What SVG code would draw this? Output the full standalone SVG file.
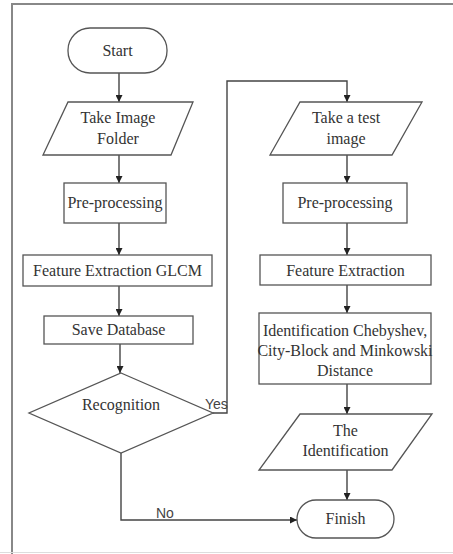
<svg xmlns="http://www.w3.org/2000/svg" width="453" height="554" viewBox="0 0 453 554">
<defs>
<style>
.s{fill:#fff;stroke:#555;stroke-width:1.3}
.t{font-family:"Liberation Serif","Times New Roman",serif;font-size:16px;fill:#333;text-anchor:middle}
.c{fill:none;stroke:#444;stroke-width:1.4}
.l{font-family:"Liberation Sans",Arial,sans-serif;font-size:14px;fill:#444}
</style>
<marker id="a" viewBox="0 0 10 10" refX="10" refY="5" markerWidth="7" markerHeight="7" orient="auto" markerUnits="userSpaceOnUse">
<path d="M0,0 L10,5 L0,10 z" fill="#222"/>
</marker>
</defs>
<rect width="453" height="554" fill="#fff"/>
<path d="M453,4 H12 V554" fill="none" stroke="#888" stroke-width="2"/>
<line x1="0" y1="552.5" x2="453" y2="552.5" stroke="#ddd" stroke-width="1"/>
<g id="connectors">
<path class="c" d="M119,73 V102" marker-end="url(#a)"/>
<path class="c" d="M119,155 V183" marker-end="url(#a)"/>
<path class="c" d="M119,223 V255" marker-end="url(#a)"/>
<path class="c" d="M119,286 V316" marker-end="url(#a)"/>
<path class="c" d="M120,344 V373" marker-end="url(#a)"/>
<path class="c" d="M213,413 H227 V81 H347 V102" marker-end="url(#a)"/>
<path class="c" d="M347,155 V183" marker-end="url(#a)"/>
<path class="c" d="M347,223 V255" marker-end="url(#a)"/>
<path class="c" d="M347,285 V313" marker-end="url(#a)"/>
<path class="c" d="M347,384 V414" marker-end="url(#a)"/>
<path class="c" d="M347,470 V500" marker-end="url(#a)"/>
<path class="c" d="M121,453 V520 H297" marker-end="url(#a)"/>
<text class="l" x="205" y="409">Yes</text>
<text class="l" x="156" y="518">No</text>
</g>
<g id="start">
<rect class="s" x="68" y="28" width="99" height="45" rx="22"/>
<text class="t" x="117.5" y="56">Start</text>
</g>
<g id="take-image-folder">
<polygon class="s" points="68,102 193,102 171,155 43,155"/>
<text class="t" x="118" y="123">Take Image</text>
<text class="t" x="118" y="144">Folder</text>
</g>
<g id="preprocessing-1">
<rect class="s" x="64" y="183" width="102" height="40"/>
<text class="t" x="115" y="208">Pre-processing</text>
</g>
<g id="feature-glcm">
<rect class="s" x="23" y="255" width="189" height="31"/>
<text class="t" x="117.5" y="276">Feature Extraction GLCM</text>
</g>
<g id="save-database">
<rect class="s" x="44" y="316" width="149" height="28"/>
<text class="t" x="118.5" y="335">Save Database</text>
</g>
<g id="recognition">
<polygon class="s" points="121,373 213,413 121,453 29,413"/>
<text class="t" x="121" y="410">Recognition</text>
</g>
<g id="take-test-image">
<polygon class="s" points="300,102 422,102 392,155 270,155"/>
<text class="t" x="346" y="123">Take a test</text>
<text class="t" x="346" y="144">image</text>
</g>
<g id="preprocessing-2">
<rect class="s" x="283" y="183" width="124" height="40"/>
<text class="t" x="345" y="208">Pre-processing</text>
</g>
<g id="feature-extraction">
<rect class="s" x="260" y="255" width="171" height="30"/>
<text class="t" x="345.5" y="276">Feature Extraction</text>
</g>
<g id="identification-distance">
<rect class="s" x="259" y="313" width="172" height="71"/>
<text class="t" x="345" y="336">Identification Chebyshev,</text>
<text class="t" x="345" y="356">City-Block and Minkowski</text>
<text class="t" x="345" y="376">Distance</text>
</g>
<g id="the-identification">
<polygon class="s" points="300,414 432,414 392,470 259,470"/>
<text class="t" x="345.5" y="436">The</text>
<text class="t" x="345.5" y="456">Identification</text>
</g>
<g id="finish">
<rect class="s" x="297" y="500" width="97" height="38" rx="19"/>
<text class="t" x="345.5" y="524">Finish</text>
</g>
</svg>
